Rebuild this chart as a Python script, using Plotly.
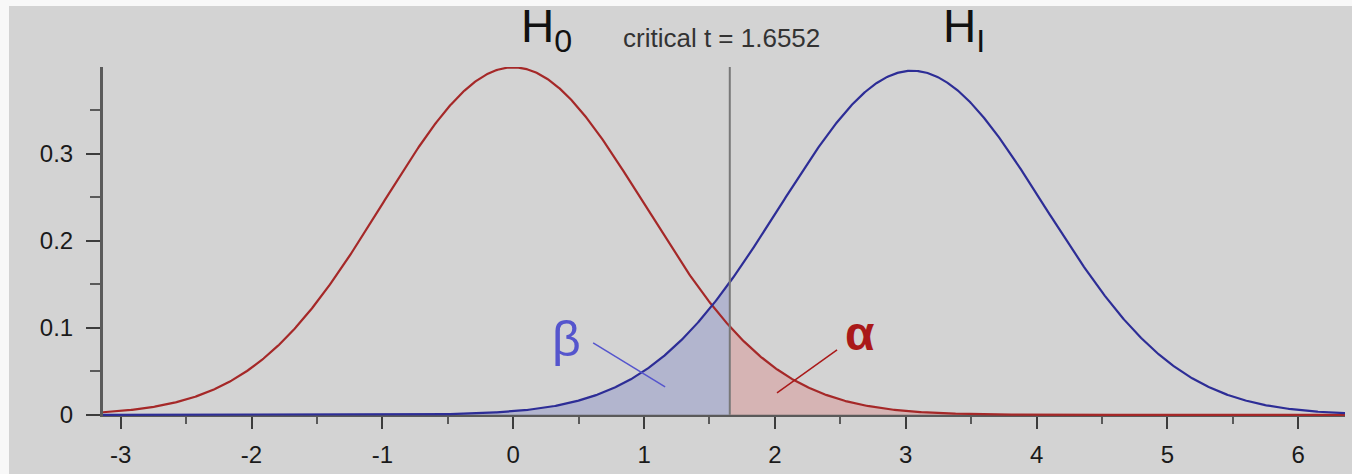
import numpy as np
import plotly.graph_objects as go

# Distribution parameters for the two hypotheses
H0_MEAN = 0.0
H0_SD = 1.0
H1_MEAN = 3.05
H1_SD = 1.01
CRITICAL_T = 1.6552

X_RANGE = [-3.135, 6.357]
Y_RANGE = [-0.0025, 0.3993]

X_TICKS = [-3, -2, -1, 0, 1, 2, 3, 4, 5, 6]
Y_TICKS = [0, 0.1, 0.2, 0.3]
Y_TICK_TEXT = ["0", "0.1", "0.2", "0.3"]

# Callout segments pointing from the Greek labels into the shaded areas
BETA_LINE_X = [0.611, 1.161]
BETA_LINE_Y = [0.0825, 0.0321]
ALPHA_LINE_X = [2.475, 2.016]
ALPHA_LINE_Y = [0.0745, 0.0252]

RED = "rgb(165,40,40)"
BLUE = "rgb(45,45,150)"
BETA_COLOR = "rgb(85,85,205)"
ALPHA_COLOR = "rgb(170,25,25)"
FONT = "Liberation Sans, Arial, Helvetica, sans-serif"


def pdf(x, mu, sd):
    return np.exp(-0.5 * ((x - mu) / sd) ** 2) / (sd * np.sqrt(2 * np.pi))


x = np.linspace(X_RANGE[0], X_RANGE[1], 1200)
h0 = pdf(x, H0_MEAN, H0_SD)
h1 = pdf(x, H1_MEAN, H1_SD)

xb = np.append(x[x <= CRITICAL_T], CRITICAL_T)
xa = np.insert(x[x >= CRITICAL_T], 0, CRITICAL_T)

fig = go.Figure()

# beta: area under H1 left of the critical value
fig.add_trace(go.Scatter(x=xb, y=pdf(xb, H1_MEAN, H1_SD), mode="lines",
                         line=dict(width=0), fill="tozeroy",
                         fillcolor="rgb(178,181,206)", hoverinfo="skip"))
# alpha: area under H0 right of the critical value
fig.add_trace(go.Scatter(x=xa, y=pdf(xa, H0_MEAN, H0_SD), mode="lines",
                         line=dict(width=0), fill="tozeroy",
                         fillcolor="rgb(214,180,180)", hoverinfo="skip"))

fig.add_trace(go.Scatter(x=x, y=h0, mode="lines", line=dict(color=RED, width=2.2)))
fig.add_trace(go.Scatter(x=x, y=h1, mode="lines", line=dict(color=BLUE, width=2.2)))

# critical value marker
fig.add_trace(go.Scatter(x=[CRITICAL_T, CRITICAL_T], y=[0, Y_RANGE[1]], mode="lines",
                         line=dict(color="rgb(120,120,120)", width=2)))

fig.add_trace(go.Scatter(x=BETA_LINE_X, y=BETA_LINE_Y, mode="lines",
                         line=dict(color=BETA_COLOR, width=1.5)))
fig.add_trace(go.Scatter(x=ALPHA_LINE_X, y=ALPHA_LINE_Y, mode="lines",
                         line=dict(color=ALPHA_COLOR, width=1.5)))

W, H = 1352, 474
ML, MR, MT, MB = 103, 7, 67, 57
pw, ph = W - ML - MR, H - MT - MB


def px_to_paper(px, py):
    return (px - ML) / pw, (H - MB - py) / ph


# gray panel behind everything, leaving a thin light border top and left
x0p, y1p = px_to_paper(9, 6)
x1p, y0p = px_to_paper(W, H)
fig.add_shape(type="rect", xref="paper", yref="paper", x0=x0p, x1=x1p, y0=y0p, y1=y1p,
              fillcolor="rgb(211,211,211)", line=dict(width=0), layer="below")

zero_pos = (0 - Y_RANGE[0]) / (Y_RANGE[1] - Y_RANGE[0])

fig.update_layout(
    width=W, height=H,
    margin=dict(l=ML, r=MR, t=MT, b=MB, pad=0),
    paper_bgcolor="rgb(248,248,248)",
    plot_bgcolor="rgba(0,0,0,0)",
    showlegend=False,
    font=dict(family=FONT, color="#222"),
    xaxis=dict(range=X_RANGE, tickvals=X_TICKS, ticktext=[str(v) for v in X_TICKS],
               showgrid=False, zeroline=False, showline=True, linewidth=3,
               linecolor="rgb(90,90,90)", ticks="outside", ticklen=12, tickwidth=2,
               tickcolor="rgb(60,60,60)", tickfont=dict(size=24, family=FONT, color="#1a1a1a"),
               ticklabelstandoff=5,
               anchor="free", position=zero_pos, layer="below traces",
               minor=dict(dtick=0.5, tick0=0, ticks="outside", ticklen=7, tickwidth=2,
                          tickcolor="rgb(90,90,90)")),
    yaxis=dict(range=Y_RANGE, tickvals=Y_TICKS, ticktext=Y_TICK_TEXT,
               showgrid=False, zeroline=False, showline=True, linewidth=3,
               linecolor="rgb(90,90,90)", ticks="outside", ticklen=14, tickwidth=2,
               tickcolor="rgb(60,60,60)", tickfont=dict(size=24, family=FONT, color="#1a1a1a"),
               ticklabelstandoff=8, layer="below traces",
               minor=dict(dtick=0.05, tick0=0, ticks="outside", ticklen=10, tickwidth=2,
                          tickcolor="rgb(90,90,90)")),
)

hx, hy = px_to_paper(0, 29)
fig.add_annotation(x=0.258, y=hy, xref="x", yref="paper", text="H<sub>0</sub>",
                   showarrow=False, font=dict(size=46, family=FONT, color="#111"),
                   xanchor="center", yanchor="middle")
fig.add_annotation(x=3.445, y=hy, xref="x", yref="paper", text="H<sub>I</sub>",
                   showarrow=False, font=dict(size=46, family=FONT, color="#111"),
                   xanchor="center", yanchor="middle")
_, cy = px_to_paper(0, 38)
fig.add_annotation(x=1.589, y=cy, xref="x", yref="paper",
                   text="critical t = 1.6552",
                   showarrow=False, font=dict(size=26, family=FONT, color="#333"),
                   xanchor="center", yanchor="middle")
fig.add_annotation(x=0.404, y=0.0875, xref="x", yref="y", text="β",
                   showarrow=False, font=dict(size=50, family=FONT, color=BETA_COLOR),
                   xanchor="center", yanchor="middle")
fig.add_annotation(x=2.651, y=0.093, xref="x", yref="y", text="<b>α</b>",
                   showarrow=False, font=dict(size=48, family=FONT, color=ALPHA_COLOR),
                   xanchor="center", yanchor="middle")

fig.write_html("out.html")
